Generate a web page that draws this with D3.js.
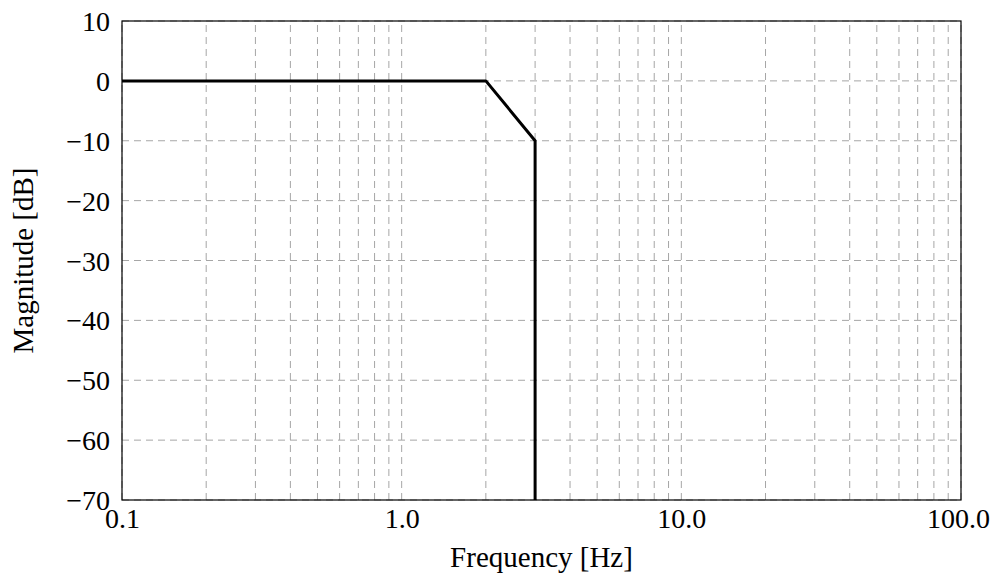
<!DOCTYPE html>
<html lang="en">
<head>
<meta charset="UTF-8">
<script src="https://d3js.org/d3.v7.min.js"></script>
<title>Magnitude response</title>
</head>
<body style="margin:0;background:#fff">
<script>
// response curve (Hz, dB)
const freq = [0.1, 2, 3, 3];
const mag = [0, 0, -10, -70];

const xTicks = [0.1, 1, 10, 100];
const xTickLabels = ["0.1", "1.0", "10.0", "100.0"];
const yTicks = [10, 0, -10, -20, -30, -40, -50, -60, -70];

const W = 995, H = 576;
const margin = {left: 122, right: 34, top: 21, bottom: 76};
const serif = "'Liberation Serif', 'DejaVu Serif', serif";
const fs = 28;

const svg = d3.select("body").append("svg")
  .attr("width", W).attr("height", H)
  .style("font-family", serif);

const x = d3.scaleLog().domain([0.1, 100]).range([margin.left, W - margin.right]);
const y = d3.scaleLinear().domain([-70, 10]).range([H - margin.bottom, margin.top]);

// grid values: 1..9 in every decade
let gridX = [];
[0.1, 1, 10].forEach(d => { for (let k = 1; k <= 9; k++) gridX.push(d * k); });
gridX.push(100);

const grid = svg.append("g")
  .attr("stroke", "#a6a6a6").attr("stroke-width", 1).attr("stroke-dasharray", "7 5");
grid.selectAll(".gx").data(gridX).enter().append("line")
  .attr("x1", d => x(d)).attr("x2", d => x(d))
  .attr("y1", y(-70)).attr("y2", y(10));
grid.selectAll(".gy").data(yTicks).enter().append("line")
  .attr("x1", x(0.1)).attr("x2", x(100))
  .attr("y1", d => y(d)).attr("y2", d => y(d));

// axes
const xAxis = svg.append("g")
  .attr("transform", "translate(0," + y(-70) + ")")
  .call(d3.axisBottom(x).tickValues(xTicks).tickFormat((d, i) => xTickLabels[i]).tickSize(0).tickPadding(0));
const yAxis = svg.append("g")
  .attr("transform", "translate(" + x(0.1) + ",0)")
  .call(d3.axisLeft(y).tickValues(yTicks).tickFormat(d => d < 0 ? "\u2212" + Math.abs(d) : d).tickSize(0).tickPadding(12));
svg.selectAll(".domain").remove();
svg.selectAll("g").attr("font-family", null).attr("font-size", null);
svg.selectAll(".tick text")
  .style("font-family", serif).style("font-size", fs + "px").attr("fill", "#000");
yAxis.selectAll(".tick text").attr("dy", "0.34em");
xAxis.selectAll(".tick text").attr("y", 28).attr("dy", 0);
// keep the last label inside the window
xAxis.selectAll(".tick text").filter(d => d === 100).attr("dx", -3);

// frame
svg.append("rect")
  .attr("x", x(0.1)).attr("y", y(10))
  .attr("width", x(100) - x(0.1)).attr("height", y(-70) - y(10))
  .attr("fill", "none").attr("stroke", "#000").attr("stroke-width", 1.2);

// curve
const pts = freq.map((f, i) => [f, mag[i]]);
svg.append("path")
  .datum(pts)
  .attr("fill", "none")
  .attr("stroke", "#000")
  .attr("stroke-width", 3)
  .attr("stroke-linejoin", "round")
  .attr("d", d3.line().x(d => x(d[0])).y(d => y(d[1])));

// labels
svg.append("text")
  .style("font-family", serif).style("font-size", (fs + 1) + "px").attr("fill", "#000")
  .attr("x", (x(0.1) + x(100)) / 2).attr("y", 567)
  .attr("text-anchor", "middle")
  .text("Frequency [Hz]");
svg.append("text")
  .style("font-family", serif).style("font-size", (fs + 1) + "px").attr("fill", "#000")
  .attr("transform", "translate(33," + y(-30) + ") rotate(-90)")
  .attr("text-anchor", "middle")
  .text("Magnitude [dB]");
</script>
</body>
</html>
